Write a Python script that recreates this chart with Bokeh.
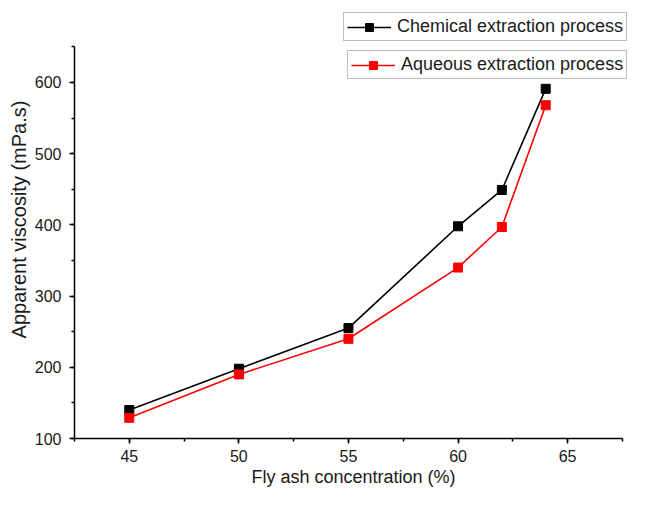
from bokeh.plotting import figure
from bokeh.models import Legend, LegendItem, SingleIntervalTicker, Range1d
from bokeh.embed import file_html
from bokeh.resources import INLINE

# Data
fly_ash = [45, 50, 55, 60, 62, 64]
chemical = [140, 198, 255, 398, 449, 591]
aqueous = [129, 190, 240, 340, 397, 568]
x_label = "Fly ash concentration (%)"
y_label = "Apparent viscosity (mPa.s)"
series_names = ["Chemical extraction process", "Aqueous extraction process"]

FONT = "Liberation Sans"
TXT = "#1a1a1a"

# frame extends to the canvas top/right so the legends are not clipped;
# the axes themselves are bounded to the reference's extent
p = figure(width=632, height=492,
           x_range=Range1d(42.5, 67.96), y_range=Range1d(100, 715),
           output_backend="svg", toolbar_location=None,
           min_border_left=74, min_border_right=0,
           min_border_top=0, min_border_bottom=54)
p.outline_line_color = None
p.grid.visible = False
p.background_fill_color = "white"
p.border_fill_color = "white"

cl = p.line(fly_ash, chemical, line_color="black", line_width=1.6)
cs = p.scatter(fly_ash, chemical, marker="square", size=9,
               fill_color="black", line_color="black")
al = p.line(fly_ash, aqueous, line_color="red", line_width=1.6)
asr = p.scatter(fly_ash, aqueous, marker="square", size=9,
                fill_color="red", line_color="red")

p.xaxis.ticker = SingleIntervalTicker(interval=5, num_minor_ticks=2)
p.yaxis.ticker = SingleIntervalTicker(interval=100, num_minor_ticks=2)
p.xaxis.bounds = (42.5, 67.5)
p.yaxis.bounds = (100, 650)

for ax in (p.xaxis, p.yaxis):
    ax.axis_line_color = "black"
    ax.axis_line_width = 1.5
    ax.major_tick_line_color = "black"
    ax.major_tick_line_width = 1.5
    ax.minor_tick_line_color = "black"
    ax.minor_tick_line_width = 1.5
    ax.major_tick_in = 0
    ax.major_tick_out = 5
    ax.minor_tick_in = 0
    ax.minor_tick_out = 3
    ax.major_label_text_font = FONT
    ax.major_label_text_font_size = "16px"
    ax.major_label_text_color = TXT
    ax.axis_label_text_font = FONT
    ax.axis_label_text_font_style = "normal"
    ax.axis_label_text_color = TXT

p.xaxis.axis_label = x_label
p.yaxis.axis_label = y_label
p.xaxis.axis_label_text_font_size = "18px"
p.yaxis.axis_label_text_font_size = "20px"
p.xaxis.major_label_standoff = 6
p.xaxis.axis_label_standoff = 2
p.yaxis.major_label_standoff = 8
p.yaxis.axis_label_standoff = 2


def make_legend(name, renderers, loc):
    lg = Legend(items=[LegendItem(label=name, renderers=renderers)],
                location=loc, orientation="vertical")
    lg.label_text_font = FONT
    lg.label_text_font_size = "18px"
    lg.label_text_color = TXT
    lg.glyph_width = 44
    lg.glyph_height = 20
    lg.label_standoff = 6
    lg.padding = 3
    lg.margin = 0
    lg.spacing = 0
    lg.border_line_color = "#7a7a7a"
    lg.border_line_width = 1.2
    lg.background_fill_color = "white"
    lg.background_fill_alpha = 1.0
    return lg


p.add_layout(make_legend(series_names[0], [cl, cs], (269, 397)))
p.add_layout(make_legend(series_names[1], [al, asr], (273, 359)))

open("out.html", "w").write(file_html(p, INLINE))
